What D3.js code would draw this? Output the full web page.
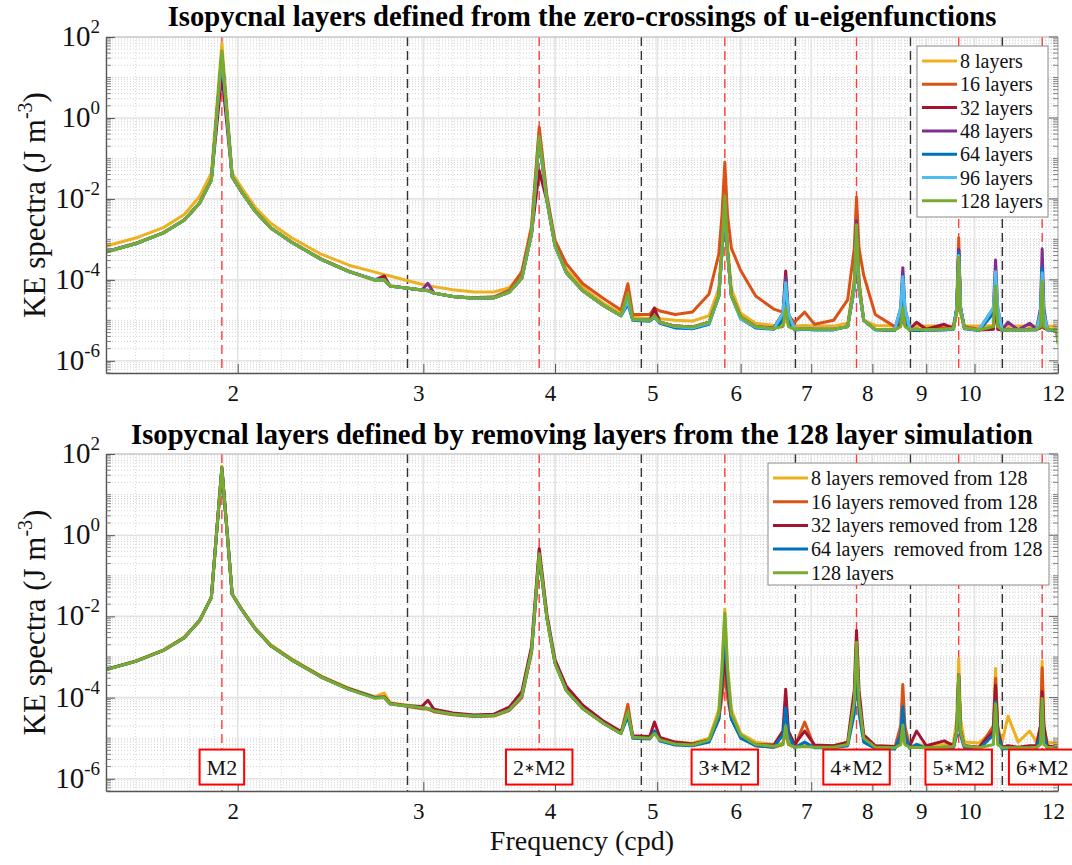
<!DOCTYPE html>
<html>
<head>
<meta charset="utf-8">
<script src="https://cdn.jsdelivr.net/npm/d3@7"></script>
<style>
  body { margin: 0; background: #fff; }
  svg { display: block; }
</style>
</head>
<body>
<div id="chart"></div>
<script>
// frequency grid (cpd) shared by every spectrum
const freqs = [
  1.50, 1.60, 1.70, 1.78, 1.84, 1.888, 1.932, 1.976, 2.02, 2.08,
  2.15, 2.25, 2.40, 2.55, 2.70, 2.755, 2.79, 2.90, 2.99, 3.03,
  3.07, 3.20, 3.35, 3.50, 3.62, 3.72, 3.80, 3.864, 3.93, 4.00,
  4.10, 4.25, 4.45, 4.62, 4.69, 4.74, 4.92, 4.97, 5.03, 5.20,
  5.40, 5.60, 5.72, 5.76, 5.796, 5.83, 5.88, 6.00, 6.20, 6.45,
  6.58, 6.62, 6.66, 6.75, 6.90, 7.05, 7.35, 7.58, 7.69, 7.728,
  7.77, 7.85, 8.05, 8.40, 8.51, 8.55, 8.59, 8.68, 8.81, 9.00,
  9.36, 9.55, 9.62, 9.66, 9.70, 9.78, 10.10, 10.42, 10.47, 10.52,
  10.62, 10.76, 11.00, 11.28, 11.45, 11.55, 11.592, 11.635, 11.72, 11.95, 12.0
];

// ---- top panel: KE spectra (J m^-3) ----
const top8 = [
  6.8e-4, 1.08e-3, 1.95e-3, 4.1e-3, 1.15e-2, 4.3e-2, 70, 4.3e-2, 1.8e-2, 6.0e-3,
  2.5e-3, 1.1e-3, 4.3e-4, 2.3e-4, 1.55e-4, 1.35e-4, 1.25e-4, 9.5e-5, 7.8e-5, 7.3e-5,
  6.8e-5, 5.7e-5, 5.0e-5, 5.0e-5, 6.4e-5, 1.5e-4, 2.2e-3, 0.45, 1.0e-2, 8.0e-4,
  1.8e-4, 6.5e-5, 2.6e-5, 1.5e-5, 5.0e-5, 1.2e-5, 1.1e-5, 1.5e-5, 1.1e-5, 1.0e-5,
  9.6e-6, 1.3e-5, 6.0e-5, 8.0e-4, 5.0e-3, 8.0e-4, 6.0e-5, 1.5e-5, 8.5e-6, 7.5e-6,
  7.5e-6, 1.1e-5, 7.5e-6, 7.2e-6, 7.5e-6, 7.2e-6, 7.2e-6, 8.5e-6, 1.0e-4, 2.0e-3,
  1.0e-4, 1.0e-5, 7.5e-6, 7.2e-6, 7.5e-6, 1.3e-5, 7.5e-6, 7.2e-6, 7.2e-6, 7.2e-6,
  7.2e-6, 7.4e-6, 1.5e-5, 3.0e-4, 1.5e-5, 7.4e-6, 7.2e-6, 7.5e-6, 2.0e-5, 7.5e-6,
  7.2e-6, 7.2e-6, 7.2e-6, 7.2e-6, 7.2e-6, 7.5e-6, 3.0e-5, 7.5e-6, 7.2e-6, 7.0e-6, 6.5e-6
];
const top16 = [
  5.0e-4, 8.0e-4, 1.45e-3, 3.0e-3, 8.0e-3, 3.0e-2, 40, 3.5e-2, 1.4e-2, 4.8e-3,
  1.9e-3, 8.6e-4, 3.3e-4, 1.65e-4, 1.0e-4, 1.0e-4, 7.2e-5, 6.2e-5, 5.6e-5, 5.5e-5,
  4.7e-5, 3.9e-5, 3.6e-5, 3.8e-5, 5.6e-5, 1.6e-4, 2.0e-3, 0.6, 1.2e-2, 9.5e-4,
  2.5e-4, 8.0e-5, 3.4e-5, 1.8e-5, 8.0e-5, 1.4e-5, 1.4e-5, 2.0e-5, 1.7e-5, 1.4e-5,
  1.6e-5, 4.5e-5, 4.3e-4, 4.0e-3, 0.08, 4.0e-3, 6.0e-4, 1.7e-4, 4.0e-5, 1.9e-5,
  1.6e-5, 1.4e-5, 1.3e-5, 9.0e-6, 1.6e-5, 8.0e-6, 1.0e-5, 3.2e-5, 6.0e-4, 0.011,
  6.0e-4, 1.3e-4, 1.4e-5, 7.0e-6, 8.0e-6, 1.2e-5, 8.0e-6, 6.0e-6, 6.0e-6, 6.0e-6,
  6.5e-6, 7.0e-6, 2.0e-5, 1.1e-3, 2.0e-5, 7.0e-6, 6.0e-6, 6.5e-6, 2.0e-5, 6.5e-6,
  6.0e-6, 6.0e-6, 6.0e-6, 6.0e-6, 6.0e-6, 6.5e-6, 4.0e-5, 6.5e-6, 6.0e-6, 5.8e-6, 5.5e-6
];
const top32 = [
  4.9e-4, 7.8e-4, 1.45e-3, 3.0e-3, 7.8e-3, 2.9e-2, 12, 3.5e-2, 1.4e-2, 4.8e-3,
  1.9e-3, 8.5e-4, 3.2e-4, 1.6e-4, 1.0e-4, 1.25e-4, 7.0e-5, 6.2e-5, 5.6e-5, 5.5e-5,
  4.7e-5, 3.9e-5, 3.5e-5, 3.6e-5, 5.0e-5, 1.1e-4, 1.4e-3, 0.05, 9.0e-3, 7.0e-4,
  1.5e-4, 5.4e-5, 2.3e-5, 1.3e-5, 3.5e-5, 1.05e-5, 1.0e-5, 2.0e-5, 9.0e-6, 7.2e-6,
  6.8e-6, 9.0e-6, 4.0e-5, 5.0e-4, 6.0e-3, 5.0e-4, 4.0e-5, 1.2e-5, 7.0e-6, 6.5e-6,
  1.5e-5, 1.65e-4, 1.5e-5, 6.0e-6, 6.2e-6, 6.0e-6, 6.0e-6, 7.0e-6, 6.0e-5, 1.2e-3,
  6.0e-5, 1.0e-5, 6.0e-6, 5.8e-6, 8.0e-6, 3.0e-5, 8.0e-6, 6.0e-6, 9.0e-6, 6.0e-6,
  8.0e-6, 6.2e-6, 2.0e-5, 5.6e-4, 2.0e-5, 6.5e-6, 5.8e-6, 6.0e-6, 3.0e-5, 6.0e-6,
  5.8e-6, 6.0e-6, 5.8e-6, 6.0e-6, 6.0e-6, 6.5e-6, 1.0e-4, 6.5e-6, 6.0e-6, 5.8e-6, 5.5e-6
];
const top48 = [
  4.9e-4, 7.8e-4, 1.45e-3, 3.0e-3, 7.8e-3, 2.9e-2, 35, 3.5e-2, 1.4e-2, 4.8e-3,
  1.9e-3, 8.5e-4, 3.2e-4, 1.6e-4, 1.0e-4, 1.0e-4, 7.0e-5, 6.2e-5, 5.6e-5, 8.2e-5,
  4.7e-5, 3.9e-5, 3.5e-5, 3.6e-5, 5.0e-5, 1.1e-4, 1.4e-3, 0.3, 9.0e-3, 7.0e-4,
  1.5e-4, 5.4e-5, 2.3e-5, 1.3e-5, 3.0e-5, 1.05e-5, 1.0e-5, 1.3e-5, 9.0e-6, 7.2e-6,
  6.8e-6, 9.0e-6, 4.0e-5, 5.0e-4, 6.0e-3, 5.0e-4, 4.0e-5, 1.2e-5, 7.0e-6, 6.3e-6,
  1.0e-5, 1.2e-4, 1.0e-5, 6.0e-6, 6.2e-6, 6.0e-6, 6.0e-6, 7.0e-6, 8.0e-5, 2.9e-3,
  8.0e-5, 1.0e-5, 6.0e-6, 5.8e-6, 2.0e-5, 2.0e-4, 2.0e-5, 6.0e-6, 6.0e-6, 5.8e-6,
  6.0e-6, 6.2e-6, 2.0e-5, 5.6e-4, 2.0e-5, 6.5e-6, 5.8e-6, 2.0e-5, 3.1e-4, 2.0e-5,
  5.8e-6, 9.0e-6, 5.8e-6, 8.5e-6, 6.0e-6, 2.0e-5, 5.8e-4, 2.0e-5, 6.0e-6, 5.8e-6, 5.5e-6
];
const top64 = [
  4.9e-4, 7.8e-4, 1.45e-3, 3.0e-3, 7.8e-3, 2.9e-2, 35, 3.5e-2, 1.4e-2, 4.8e-3,
  1.9e-3, 8.5e-4, 3.2e-4, 1.6e-4, 1.0e-4, 1.0e-4, 7.0e-5, 6.2e-5, 5.6e-5, 5.4e-5,
  4.7e-5, 3.9e-5, 3.5e-5, 3.6e-5, 5.0e-5, 1.1e-4, 1.4e-3, 0.3, 9.0e-3, 7.0e-4,
  1.5e-4, 5.4e-5, 2.3e-5, 1.3e-5, 2.5e-5, 1.0e-5, 9.5e-6, 1.2e-5, 8.5e-6, 6.5e-6,
  6.2e-6, 8.0e-6, 4.0e-5, 5.0e-4, 7.0e-3, 5.0e-4, 4.0e-5, 1.1e-5, 6.5e-6, 6.0e-6,
  1.0e-5, 8.6e-5, 1.0e-5, 5.8e-6, 6.0e-6, 5.8e-6, 5.8e-6, 7.0e-6, 6.0e-5, 1.2e-3,
  6.0e-5, 1.0e-5, 5.8e-6, 5.6e-6, 1.5e-5, 1.2e-4, 1.5e-5, 5.6e-6, 5.6e-6, 5.6e-6,
  5.8e-6, 6.0e-6, 2.0e-5, 4.7e-4, 2.0e-5, 6.2e-6, 5.6e-6, 1.5e-5, 1.2e-4, 1.5e-5,
  5.6e-6, 5.8e-6, 5.6e-6, 5.8e-6, 5.8e-6, 1.5e-5, 2.0e-4, 1.5e-5, 5.8e-6, 5.6e-6, 5.4e-6
];
const top96 = [
  4.9e-4, 7.8e-4, 1.45e-3, 3.0e-3, 7.8e-3, 2.9e-2, 38, 3.5e-2, 1.4e-2, 4.8e-3,
  1.9e-3, 8.5e-4, 3.2e-4, 1.6e-4, 1.0e-4, 1.0e-4, 7.0e-5, 6.2e-5, 5.6e-5, 5.4e-5,
  4.7e-5, 3.9e-5, 3.5e-5, 3.6e-5, 5.0e-5, 1.1e-4, 1.4e-3, 0.3, 9.0e-3, 7.0e-4,
  1.5e-4, 5.4e-5, 2.3e-5, 1.3e-5, 3.0e-5, 1.05e-5, 1.0e-5, 1.2e-5, 9.0e-6, 7.0e-6,
  6.5e-6, 8.5e-6, 4.0e-5, 5.0e-4, 8.0e-3, 5.0e-4, 4.0e-5, 1.1e-5, 6.8e-6, 6.2e-6,
  1.5e-5, 8.6e-5, 1.5e-5, 6.0e-6, 6.2e-6, 6.0e-6, 6.0e-6, 7.0e-6, 6.0e-5, 1.2e-3,
  6.0e-5, 1.0e-5, 6.0e-6, 5.8e-6, 2.0e-5, 1.2e-4, 2.0e-5, 6.0e-6, 6.0e-6, 5.8e-6,
  6.0e-6, 6.2e-6, 2.0e-5, 4.0e-4, 2.0e-5, 6.5e-6, 5.8e-6, 2.0e-5, 1.6e-4, 2.0e-5,
  5.8e-6, 5.8e-6, 5.8e-6, 5.8e-6, 6.0e-6, 1.5e-5, 1.5e-4, 1.5e-5, 6.0e-6, 5.8e-6, 5.5e-6
];
const top128 = [
  4.8e-4, 7.8e-4, 1.45e-3, 3.0e-3, 7.8e-3, 2.9e-2, 45, 3.5e-2, 1.4e-2, 4.8e-3,
  1.9e-3, 8.5e-4, 3.2e-4, 1.6e-4, 9.6e-5, 1.0e-4, 7.0e-5, 6.2e-5, 5.6e-5, 5.4e-5,
  4.7e-5, 3.9e-5, 3.5e-5, 3.6e-5, 5.0e-5, 1.1e-4, 1.4e-3, 0.35, 9.0e-3, 7.0e-4,
  1.5e-4, 5.4e-5, 2.3e-5, 1.3e-5, 4.6e-5, 1.05e-5, 1.0e-5, 1.3e-5, 9.0e-6, 7.2e-6,
  6.8e-6, 9.0e-6, 4.0e-5, 5.0e-4, 1.2e-2, 5.0e-4, 4.0e-5, 1.2e-5, 7.0e-6, 6.3e-6,
  7.0e-6, 2.0e-5, 7.0e-6, 6.0e-6, 6.2e-6, 6.0e-6, 6.0e-6, 7.0e-6, 8.0e-5, 2.3e-3,
  8.0e-5, 1.0e-5, 6.0e-6, 5.8e-6, 7.0e-6, 2.1e-5, 7.0e-6, 5.8e-6, 6.0e-6, 5.8e-6,
  6.0e-6, 6.2e-6, 1.5e-5, 3.6e-4, 1.5e-5, 6.5e-6, 5.8e-6, 7.0e-6, 7.0e-5, 7.0e-6,
  5.8e-6, 5.8e-6, 5.8e-6, 5.8e-6, 6.0e-6, 7.0e-6, 9.5e-5, 7.0e-6, 6.0e-6, 5.8e-6, 2.6e-6
];

// ---- bottom panel: layers removed from the 128 layer run ----
const bot8 = [
  5.0e-4, 8.0e-4, 1.5e-3, 3.1e-3, 8.0e-3, 3.0e-2, 50, 3.6e-2, 1.45e-2, 5.0e-3,
  2.0e-3, 9.0e-4, 3.4e-4, 1.7e-4, 1.05e-4, 1.3e-4, 7.5e-5, 6.5e-5, 5.8e-5, 5.5e-5,
  4.8e-5, 4.0e-5, 3.6e-5, 3.7e-5, 5.2e-5, 1.1e-4, 1.4e-3, 0.4, 9.0e-3, 7.0e-4,
  1.5e-4, 5.4e-5, 2.3e-5, 1.3e-5, 5.0e-5, 1.05e-5, 1.0e-5, 1.3e-5, 9.5e-6, 8.0e-6,
  7.5e-6, 1.0e-5, 5.0e-5, 6.0e-4, 1.5e-2, 6.0e-4, 5.0e-5, 1.3e-5, 8.0e-6, 7.0e-6,
  7.5e-6, 1.5e-5, 7.5e-6, 6.5e-6, 7.0e-6, 6.5e-6, 6.5e-6, 8.0e-6, 8.0e-5, 2.0e-3,
  8.0e-5, 1.1e-5, 6.5e-6, 6.2e-6, 7.0e-6, 2.0e-5, 7.0e-6, 6.2e-6, 7.0e-6, 6.5e-6,
  7.0e-6, 7.5e-6, 3.0e-5, 9.0e-4, 3.0e-5, 8.0e-6, 7.6e-6, 1.5e-5, 5.2e-4, 1.5e-5,
  8.0e-6, 3.5e-5, 8.0e-6, 1.5e-5, 8.0e-6, 2.0e-5, 8.0e-4, 2.0e-5, 8.0e-6, 7.5e-6, 6.0e-6
];
const bot16 = [
  4.9e-4, 7.8e-4, 1.45e-3, 3.0e-3, 7.8e-3, 2.9e-2, 45, 3.5e-2, 1.4e-2, 4.8e-3,
  1.9e-3, 8.5e-4, 3.2e-4, 1.6e-4, 1.0e-4, 1.0e-4, 7.0e-5, 6.0e-5, 5.3e-5, 5.2e-5,
  4.5e-5, 3.8e-5, 3.4e-5, 3.5e-5, 4.8e-5, 1.0e-4, 1.3e-3, 0.3, 9.0e-3, 7.0e-4,
  1.5e-4, 5.4e-5, 2.3e-5, 1.3e-5, 6.8e-5, 1.05e-5, 1.0e-5, 1.5e-5, 9.0e-6, 7.2e-6,
  6.8e-6, 8.5e-6, 3.0e-5, 1.0e-4, 4.0e-4, 1.0e-4, 3.0e-5, 1.1e-5, 6.5e-6, 6.0e-6,
  7.0e-6, 1.5e-5, 7.0e-6, 6.0e-6, 2.5e-5, 6.0e-6, 6.0e-6, 7.0e-6, 8.0e-5, 2.3e-3,
  8.0e-5, 1.0e-5, 6.0e-6, 5.8e-6, 2.0e-5, 2.1e-4, 2.0e-5, 6.0e-6, 6.0e-6, 5.8e-6,
  6.0e-6, 6.2e-6, 1.5e-5, 3.6e-4, 1.5e-5, 6.5e-6, 5.8e-6, 2.0e-5, 3.0e-4, 2.0e-5,
  5.8e-6, 6.0e-6, 5.8e-6, 6.0e-6, 6.0e-6, 2.0e-5, 5.4e-4, 2.0e-5, 6.0e-6, 5.8e-6, 5.5e-6
];
const bot32 = [
  4.9e-4, 7.8e-4, 1.45e-3, 3.0e-3, 7.8e-3, 2.9e-2, 45, 3.5e-2, 1.4e-2, 4.8e-3,
  1.9e-3, 8.5e-4, 3.3e-4, 1.65e-4, 1.0e-4, 1.05e-4, 7.2e-5, 6.3e-5, 6.0e-5, 8.6e-5,
  5.2e-5, 4.2e-5, 3.7e-5, 3.9e-5, 5.8e-5, 1.4e-4, 1.8e-3, 0.47, 1.1e-2, 8.5e-4,
  1.9e-4, 6.5e-5, 2.6e-5, 1.45e-5, 4.5e-5, 1.15e-5, 1.1e-5, 2.5e-5, 1.05e-5, 8.0e-6,
  7.2e-6, 9.0e-6, 3.0e-5, 2.0e-4, 1.0e-3, 2.0e-4, 3.0e-5, 1.1e-5, 7.0e-6, 6.8e-6,
  1.5e-5, 1.6e-4, 1.5e-5, 7.0e-6, 1.5e-5, 6.8e-6, 6.5e-6, 8.0e-6, 1.5e-4, 4.5e-3,
  1.5e-4, 1.2e-5, 6.5e-6, 6.2e-6, 8.0e-6, 3.0e-5, 8.0e-6, 6.5e-6, 1.5e-5, 6.5e-6,
  8.6e-6, 6.5e-6, 1.5e-5, 3.6e-4, 1.5e-5, 6.5e-6, 6.0e-6, 1.5e-5, 2.0e-4, 1.5e-5,
  6.0e-6, 6.5e-6, 6.0e-6, 6.5e-6, 6.5e-6, 2.0e-5, 1.4e-4, 2.0e-5, 6.5e-6, 6.0e-6, 5.5e-6
];
const bot64 = [
  4.9e-4, 7.8e-4, 1.45e-3, 3.0e-3, 7.8e-3, 2.9e-2, 45, 3.5e-2, 1.4e-2, 4.8e-3,
  1.9e-3, 8.5e-4, 3.2e-4, 1.6e-4, 1.0e-4, 1.0e-4, 7.0e-5, 6.2e-5, 5.6e-5, 5.4e-5,
  4.7e-5, 3.9e-5, 3.5e-5, 3.6e-5, 5.0e-5, 1.1e-4, 1.4e-3, 0.3, 9.0e-3, 7.0e-4,
  1.5e-4, 5.4e-5, 2.3e-5, 1.3e-5, 3.5e-5, 1.0e-5, 9.5e-6, 1.5e-5, 8.5e-6, 6.8e-6,
  6.5e-6, 8.0e-6, 3.0e-5, 3.0e-4, 5.0e-3, 3.0e-4, 3.0e-5, 1.0e-5, 6.5e-6, 6.0e-6,
  1.2e-5, 5.6e-5, 1.2e-5, 5.8e-6, 8.0e-6, 5.8e-6, 5.8e-6, 6.5e-6, 4.0e-5, 8.0e-4,
  4.0e-5, 8.0e-6, 5.6e-6, 5.4e-6, 1.2e-5, 6.0e-5, 1.2e-5, 5.6e-6, 7.0e-6, 5.6e-6,
  6.0e-6, 5.8e-6, 1.2e-5, 3.0e-4, 1.2e-5, 5.8e-6, 5.4e-6, 1.2e-5, 8.0e-5, 1.2e-5,
  5.4e-6, 5.6e-6, 5.4e-6, 5.6e-6, 5.6e-6, 1.2e-5, 6.0e-5, 1.2e-5, 5.6e-6, 5.4e-6, 5.2e-6
];

const topNames = ['8 layers', '16 layers', '32 layers', '48 layers', '64 layers', '96 layers', '128 layers'];
const bottomNames = ['8 layers removed from 128', '16 layers removed from 128', '32 layers removed from 128',
  '64 layers  removed from 128', '128 layers'];
const topColors = ['#EDB120', '#D95319', '#A2142F', '#7E2F8E', '#0072BD', '#4DBEEE', '#77AC30'];
const bottomColors = ['#EDB120', '#D95319', '#A2142F', '#0072BD', '#77AC30'];

// tidal lines: M2 harmonics (red) and half-way frequencies (black)
const harmonicFreqs = [1.932, 3.864, 5.796, 7.728, 9.66, 11.592];
const harmonicMultipliers = ['', '2', '3', '4', '5', '6'];
const halfFreqs = [2.898, 4.83, 6.762, 8.694, 10.626];
const labelLevel = 2e-6;

const xTickValues = [2, 3, 4, 5, 6, 7, 8, 9, 10, 12];
const yTickExponents = [-6, -4, -2, 0, 2];

const W = 1072, H = 865;
const plotLeft = 106, plotRight = 1058;
const serif = "'Liberation Serif','Times New Roman',serif";

const svg = d3.select('#chart').append('svg')
  .attr('width', W).attr('height', H)
  .style('font-family', serif);

function drawPanel(p) {
  const g = svg.append('g');
  const x = d3.scaleLog().domain([1.5, 12]).range([plotLeft, plotRight]);
  const y = d3.scaleLog().domain([5e-7, 100]).range([p.bottom, p.top]);

  g.append('rect').attr('x', plotLeft).attr('y', p.top)
    .attr('width', plotRight - plotLeft).attr('height', p.bottom - p.top).attr('fill', '#fff');

  // minor grid
  const yMajor = yTickExponents.map(e => Math.pow(10, e));
  const yMinor = y.ticks().filter(v => !yMajor.some(m => Math.abs(v / m - 1) < 1e-6));
  g.append('g').selectAll('line').data(yMinor).enter().append('line')
    .attr('x1', plotLeft).attr('x2', plotRight)
    .attr('y1', d => y(d)).attr('y2', d => y(d))
    .attr('stroke', '#c8c8c8').attr('stroke-width', 0.8).attr('stroke-dasharray', '1,2');
  const xMinor = d3.range(15, 120, 1).map(v => v / 10).filter(v => !xTickValues.includes(v));
  g.append('g').selectAll('line').data(xMinor).enter().append('line')
    .attr('y1', p.top).attr('y2', p.bottom)
    .attr('x1', d => x(d)).attr('x2', d => x(d))
    .attr('stroke', '#d0d0d0').attr('stroke-width', 0.8).attr('stroke-dasharray', '1,2');

  // major grid
  g.append('g').selectAll('line').data(yMajor).enter().append('line')
    .attr('x1', plotLeft).attr('x2', plotRight)
    .attr('y1', d => y(d)).attr('y2', d => y(d))
    .attr('stroke', '#e3e3e3').attr('stroke-width', 1.6);
  g.append('g').selectAll('line').data(xTickValues).enter().append('line')
    .attr('y1', p.top).attr('y2', p.bottom)
    .attr('x1', d => x(d)).attr('x2', d => x(d))
    .attr('stroke', '#e3e3e3').attr('stroke-width', 1.6);

  // tidal frequency markers
  g.append('g').selectAll('line').data(harmonicFreqs).enter().append('line')
    .attr('y1', p.top).attr('y2', p.bottom)
    .attr('x1', d => x(d)).attr('x2', d => x(d))
    .attr('stroke', '#ff3b3b').attr('stroke-width', 1.4).attr('stroke-dasharray', '9,5');
  g.append('g').selectAll('line').data(halfFreqs).enter().append('line')
    .attr('y1', p.top).attr('y2', p.bottom)
    .attr('x1', d => x(d)).attr('x2', d => x(d))
    .attr('stroke', '#333').attr('stroke-width', 1.4).attr('stroke-dasharray', '9,5');

  // spectra
  const clipId = 'clip' + p.id;
  g.append('clipPath').attr('id', clipId).append('rect')
    .attr('x', plotLeft).attr('y', p.top - 2)
    .attr('width', plotRight - plotLeft).attr('height', p.bottom - p.top + 2);
  const line = d3.line().x(d => x(d[0])).y(d => y(d[1]));
  g.append('g').attr('clip-path', `url(#${clipId})`)
    .selectAll('path').data(p.series).enter().append('path')
    .attr('d', s => line(freqs.map((f, i) => [f, s[i]])))
    .attr('fill', 'none')
    .attr('stroke', (s, i) => p.colors[i])
    .attr('stroke-width', 3)
    .attr('stroke-linejoin', 'round');

  // axes box
  g.append('line').attr('x1', plotLeft).attr('x2', plotRight).attr('y1', p.top).attr('y2', p.top)
    .attr('stroke', '#bdbdbd').attr('stroke-width', 1.2);
  g.append('line').attr('x1', plotRight).attr('x2', plotRight).attr('y1', p.top).attr('y2', p.bottom)
    .attr('stroke', '#bdbdbd').attr('stroke-width', 1.2);

  const xAxis = g.append('g').attr('transform', `translate(0,${p.bottom})`)
    .call(d3.axisBottom(x).tickValues(xTickValues).tickSize(-9).tickSizeOuter(0).tickFormat(d3.format('d')));
  xAxis.select('.domain').attr('stroke', '#555').attr('stroke-width', 1.4);
  xAxis.selectAll('.tick line').attr('stroke', '#555');
  xAxis.selectAll('.tick text')
    .attr('y', 28).attr('dy', 0).attr('dx', -5)
    .attr('font-family', serif).attr('font-size', 23).attr('fill', '#111');

  const yAxis = g.append('g').attr('transform', `translate(${plotLeft},0)`)
    .call(d3.axisLeft(y).tickValues(yMajor).tickSize(-9).tickSizeOuter(0).tickFormat(''));
  yAxis.select('.domain').attr('stroke', '#555').attr('stroke-width', 1.4);
  yAxis.selectAll('.tick line').attr('stroke', '#555');
  // minor tick marks on left and right
  [plotLeft, plotRight].forEach((x0, k) => {
    const dir = k === 0 ? 1 : -1;
    g.append('g').selectAll('line').data(yMinor).enter().append('line')
      .attr('x1', x0).attr('x2', x0 + dir * 5)
      .attr('y1', d => y(d)).attr('y2', d => y(d))
      .attr('stroke', '#666').attr('stroke-width', 0.8);
  });
  g.append('g').selectAll('line').data(yMajor).enter().append('line')
    .attr('x1', plotRight).attr('x2', plotRight - 9)
    .attr('y1', d => y(d)).attr('y2', d => y(d))
    .attr('stroke', '#666').attr('stroke-width', 1);

  // y tick labels 10^n
  const yl = g.append('g').selectAll('text').data(yTickExponents).enter().append('text')
    .attr('x', plotLeft - 6).attr('y', e => y(Math.pow(10, e)) + 9)
    .attr('text-anchor', 'end').attr('fill', '#111');
  yl.append('tspan').attr('font-size', 29).text('10');
  yl.append('tspan').attr('font-size', 19).attr('dy', -13).text(e => String(e));

  // y label
  const cy = (p.top + p.bottom) / 2;
  const ylab = g.append('text')
    .attr('transform', `translate(45,${cy}) rotate(-90)`)
    .attr('text-anchor', 'middle').attr('font-size', 31).attr('fill', '#111');
  ylab.append('tspan').text('KE spectra (J m');
  ylab.append('tspan').attr('font-size', 20).attr('dy', -13).text('-3');
  ylab.append('tspan').attr('dy', 13).text(')');

  // title
  const title = g.append('text')
    .attr('x', (plotLeft + plotRight) / 2).attr('y', p.titleY)
    .attr('text-anchor', 'middle').attr('font-weight', 'bold')
    .attr('font-size', 26).attr('fill', '#000')
    .text(p.title);
  const len = title.node().getComputedTextLength();
  title.attr('font-size', 26 * p.titleWidth / len);

  // harmonic label boxes
  if (p.boxes) {
    const bg = g.append('g');
    harmonicFreqs.forEach((f, i) => {
      const t = bg.append('text')
        .attr('x', x(f)).attr('y', y(labelLevel) + 8)
        .attr('text-anchor', 'middle').attr('font-size', 22).attr('fill', '#111');
      if (harmonicMultipliers[i]) {
        t.append('tspan').text(harmonicMultipliers[i]);
        t.append('tspan').attr('font-family', "'DejaVu Sans',sans-serif")
          .attr('font-size', 13).attr('dy', -3).text('\u2217');
        t.append('tspan').attr('dy', 3).text('M2');
      } else {
        t.text('M2');
      }
      const bb = t.node().getBBox();
      bg.insert('rect', 'text')
        .attr('x', bb.x - 7).attr('y', y(labelLevel) - 17)
        .attr('width', bb.width + 14).attr('height', 35)
        .attr('fill', '#fff').attr('stroke', '#ff0000').attr('stroke-width', 2);
    });
  }

  // legend
  const lg = g.append('g');
  lg.append('rect').attr('x', p.legend.x).attr('y', p.legend.y)
    .attr('width', p.legend.w).attr('height', p.legend.h)
    .attr('fill', '#fff').attr('stroke', '#8a8a8a').attr('stroke-width', 1);
  p.names.forEach((name, i) => {
    const ly = p.legend.y + 15 + i * p.legend.step;
    lg.append('line').attr('x1', p.legend.x + 5).attr('x2', p.legend.x + 40)
      .attr('y1', ly).attr('y2', ly)
      .attr('stroke', p.colors[i]).attr('stroke-width', 3);
    lg.append('text').attr('x', p.legend.x + 43).attr('y', ly + 7)
      .attr('font-size', 20).attr('fill', '#111')
      .style('white-space', 'pre')
      .text(name);
  });
}

drawPanel({
  id: 'top', top: 37, bottom: 373, titleY: 26,
  title: 'Isopycnal layers defined from the zero-crossings of u-eigenfunctions', titleWidth: 829,
  series: [top8, top16, top32, top48, top64, top96, top128],
  names: topNames, colors: topColors, boxes: false,
  legend: { x: 917, y: 46, w: 131, h: 171, step: 23.3 }
});

drawPanel({
  id: 'bottom', top: 454, bottom: 791, titleY: 444,
  title: 'Isopycnal layers defined by removing layers from the 128 layer simulation', titleWidth: 902,
  series: [bot8, bot16, bot32, bot64, top128],
  names: bottomNames, colors: bottomColors, boxes: true,
  legend: { x: 768, y: 463, w: 281, h: 122, step: 23.7 }
});

// x label
svg.append('text')
  .attr('x', (plotLeft + plotRight) / 2).attr('y', 850)
  .attr('text-anchor', 'middle').attr('font-size', 28).attr('fill', '#111')
  .text('Frequency (cpd)');
</script>
</body>
</html>
